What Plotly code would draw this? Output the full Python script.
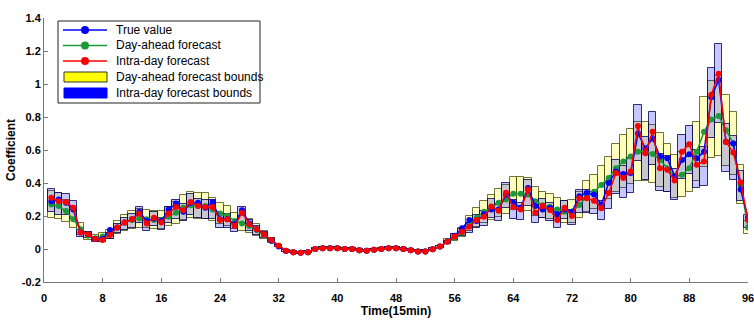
import numpy as np
import plotly.graph_objects as go

time_idx = list(range(1, 97))

true_value = [0.29, 0.30, 0.28, 0.24, 0.10, 0.09, 0.06, 0.06, 0.115, 0.13,
              0.16, 0.18, 0.225, 0.17, 0.185, 0.17, 0.24, 0.275, 0.225, 0.28,
              0.28, 0.25, 0.285, 0.18, 0.18, 0.15, 0.235, 0.155, 0.12, 0.09,
              0.05, 0.015, -0.012, -0.02, -0.022, -0.02, 0.0, 0.005, 0.005, 0.005,
              0.0, 0.0, -0.008, -0.01, -0.005, 0.0, 0.005, 0.005, 0.0, -0.008,
              -0.015, -0.015, -0.002, 0.015, 0.045, 0.08, 0.125, 0.175, 0.17, 0.21,
              0.24, 0.24, 0.33, 0.28, 0.25, 0.37, 0.26, 0.24, 0.25, 0.21,
              0.24, 0.226, 0.32, 0.34, 0.33, 0.27, 0.40, 0.47, 0.455, 0.46,
              0.70, 0.61, 0.67, 0.56, 0.55, 0.44, 0.54, 0.575, 0.55, 0.59,
              0.92, 1.024, 0.65, 0.64, 0.36, 0.19]

day_ahead = [0.27, 0.26, 0.23, 0.18, 0.12, 0.08, 0.065, 0.075, 0.09, 0.13,
             0.16, 0.175, 0.185, 0.18, 0.175, 0.175, 0.195, 0.22, 0.25, 0.265,
             0.26, 0.26, 0.24, 0.215, 0.20, 0.17, 0.155, 0.14, 0.115, 0.085,
             0.05, 0.02, -0.01, -0.02, -0.022, -0.02, 0.0, 0.005, 0.005, 0.005,
             0.0, 0.0, -0.008, -0.01, -0.005, 0.0, 0.005, 0.005, 0.0, -0.008,
             -0.015, -0.015, -0.002, 0.015, 0.045, 0.07, 0.10, 0.155, 0.19, 0.225,
             0.25, 0.28, 0.30, 0.335, 0.335, 0.33, 0.29, 0.265, 0.255, 0.24,
             0.225, 0.226, 0.267, 0.317, 0.347, 0.388, 0.43, 0.49, 0.53, 0.56,
             0.59, 0.59, 0.576, 0.54, 0.49, 0.44, 0.45, 0.49, 0.59, 0.71,
             0.785, 0.806, 0.72, 0.64, 0.39, 0.13]

intra_day = [0.31, 0.29, 0.285, 0.25, 0.10, 0.09, 0.06, 0.055, 0.085, 0.13,
             0.16, 0.18, 0.215, 0.155, 0.19, 0.16, 0.215, 0.255, 0.235, 0.285,
             0.26, 0.255, 0.255, 0.175, 0.18, 0.14, 0.22, 0.15, 0.12, 0.09,
             0.055, 0.02, -0.01, -0.02, -0.022, -0.02, 0.0, 0.005, 0.005, 0.005,
             0.0, 0.0, -0.008, -0.01, -0.005, 0.0, 0.005, 0.005, 0.0, -0.008,
             -0.015, -0.015, -0.002, 0.015, 0.044, 0.075, 0.105, 0.135, 0.176, 0.196,
             0.257, 0.232, 0.341, 0.253, 0.24, 0.36, 0.22, 0.26, 0.236, 0.176,
             0.25, 0.20, 0.307, 0.307, 0.293, 0.247, 0.34, 0.46, 0.43, 0.47,
             0.745, 0.58, 0.71, 0.49, 0.48, 0.415, 0.59, 0.635, 0.51, 0.53,
             0.935, 1.062, 0.648, 0.585, 0.405, 0.175]

da_lower = [0.189, 0.182, 0.161, 0.126, 0.084, 0.056, 0.046, 0.053, 0.063, 0.091,
            0.112, 0.123, 0.130, 0.126, 0.123, 0.123, 0.137, 0.154, 0.175, 0.186,
            0.182, 0.182, 0.168, 0.151, 0.140, 0.119, 0.109, 0.098, 0.081, 0.060,
            0.035, 0.014, -0.016, -0.026, -0.028, -0.026, -0.006, -0.001, -0.001, -0.001,
            -0.006, -0.006, -0.014, -0.016, -0.011, -0.006, -0.001, -0.001, -0.006, -0.014,
            -0.021, -0.021, -0.008, 0.009, 0.032, 0.049, 0.070, 0.109, 0.133, 0.158,
            0.175, 0.196, 0.210, 0.235, 0.235, 0.231, 0.203, 0.186, 0.179, 0.168,
            0.158, 0.158, 0.187, 0.222, 0.243, 0.272, 0.301, 0.343, 0.371, 0.392,
            0.413, 0.413, 0.403, 0.378, 0.343, 0.308, 0.315, 0.343, 0.413, 0.497,
            0.550, 0.564, 0.504, 0.448, 0.273, 0.091]

da_upper = [0.351, 0.338, 0.299, 0.234, 0.156, 0.104, 0.085, 0.098, 0.117, 0.169,
            0.208, 0.228, 0.241, 0.234, 0.228, 0.228, 0.254, 0.286, 0.325, 0.345,
            0.338, 0.338, 0.312, 0.280, 0.260, 0.221, 0.202, 0.182, 0.150, 0.111,
            0.065, 0.026, -0.004, -0.014, -0.016, -0.014, 0.006, 0.011, 0.011, 0.011,
            0.006, 0.006, -0.002, -0.004, 0.001, 0.006, 0.011, 0.011, 0.006, -0.002,
            -0.009, -0.009, 0.004, 0.021, 0.059, 0.091, 0.130, 0.202, 0.247, 0.293,
            0.325, 0.364, 0.390, 0.436, 0.436, 0.429, 0.377, 0.345, 0.332, 0.312,
            0.293, 0.294, 0.347, 0.412, 0.451, 0.504, 0.559, 0.637, 0.689, 0.728,
            0.767, 0.767, 0.749, 0.702, 0.637, 0.572, 0.585, 0.637, 0.767, 0.923,
            1.021, 1.048, 0.936, 0.832, 0.507, 0.169]

id_lower = [0.223, 0.209, 0.205, 0.180, 0.072, 0.065, 0.043, 0.040, 0.061, 0.094,
            0.115, 0.130, 0.155, 0.112, 0.137, 0.115, 0.155, 0.184, 0.169, 0.205,
            0.187, 0.184, 0.184, 0.126, 0.130, 0.101, 0.158, 0.108, 0.086, 0.065,
            0.040, 0.014, -0.016, -0.026, -0.028, -0.026, -0.006, -0.001, -0.001, -0.001,
            -0.006, -0.006, -0.014, -0.016, -0.011, -0.006, -0.001, -0.001, -0.006, -0.014,
            -0.021, -0.021, -0.008, 0.009, 0.032, 0.054, 0.076, 0.097, 0.127, 0.141,
            0.185, 0.167, 0.246, 0.182, 0.173, 0.259, 0.158, 0.187, 0.170, 0.127,
            0.180, 0.144, 0.221, 0.221, 0.211, 0.178, 0.245, 0.331, 0.310, 0.338,
            0.536, 0.418, 0.511, 0.353, 0.346, 0.299, 0.425, 0.457, 0.367, 0.382,
            0.673, 0.765, 0.467, 0.421, 0.292, 0.126]

id_upper = [0.363, 0.339, 0.333, 0.293, 0.117, 0.105, 0.070, 0.064, 0.099, 0.152,
            0.187, 0.211, 0.252, 0.181, 0.222, 0.187, 0.252, 0.298, 0.275, 0.333,
            0.304, 0.298, 0.298, 0.205, 0.211, 0.164, 0.257, 0.176, 0.140, 0.105,
            0.064, 0.023, -0.004, -0.014, -0.016, -0.014, 0.006, 0.011, 0.011, 0.011,
            0.006, 0.006, -0.002, -0.004, 0.001, 0.006, 0.011, 0.011, 0.006, -0.002,
            -0.009, -0.009, 0.004, 0.021, 0.051, 0.088, 0.123, 0.158, 0.206, 0.229,
            0.301, 0.271, 0.399, 0.296, 0.281, 0.421, 0.257, 0.304, 0.276, 0.206,
            0.293, 0.234, 0.359, 0.359, 0.343, 0.289, 0.398, 0.538, 0.503, 0.550,
            0.872, 0.679, 0.831, 0.573, 0.562, 0.486, 0.690, 0.743, 0.597, 0.620,
            1.094, 1.243, 0.758, 0.684, 0.474, 0.205]

x_ticks = [0, 8, 16, 24, 32, 40, 48, 56, 64, 72, 80, 88, 96]
y_ticks = [-0.2, 0, 0.2, 0.4, 0.6, 0.8, 1, 1.2, 1.4]
y_tick_text = ["-0.2", "0", "0.2", "0.4", "0.6", "0.8", "1", "1.2", "1.4"]

legend_labels = ["True value", "Day-ahead forecast", "Intra-day forecast",
                 "Day-ahead forecast bounds", "Intra-day forecast bounds"]

FONT = "Liberation Sans, Arial, sans-serif"
C_TRUE, C_DA, C_ID = "#0000ff", "#1a9a3a", "#ff0000"

W, H = 754, 324
PLOT_L, PLOT_R, PLOT_T, PLOT_B = 44, 748, 18, 282   # pixels
ML, MT, MR, MB = PLOT_L, PLOT_T, W - PLOT_R, H - PLOT_B
PW, PH = PLOT_R - PLOT_L, PLOT_B - PLOT_T

def px_x(px):
    return (px - PLOT_L) / PW

def px_y(py):
    return (PLOT_B - py) / PH

fig = go.Figure()

da_lo = np.array(da_lower)
da_hi = np.array(da_upper)
id_lo = np.array(id_lower)
id_hi = np.array(id_upper)

fig.add_trace(go.Bar(
    x=time_idx, y=da_hi - da_lo, base=da_lo, width=1,
    name=legend_labels[3],
    marker=dict(color="rgba(255,255,0,0.25)",
                line=dict(color="rgba(70,70,0,0.75)", width=1)),
))
fig.add_trace(go.Bar(
    x=time_idx, y=id_hi - id_lo, base=id_lo, width=1,
    name=legend_labels[4],
    marker=dict(color="rgba(0,0,255,0.22)",
                line=dict(color="rgba(0,0,90,0.8)", width=1)),
))
fig.add_trace(go.Scatter(
    x=time_idx, y=day_ahead, mode="lines+markers", name=legend_labels[1],
    line=dict(color=C_DA, width=1.5), marker=dict(color=C_DA, size=6),
))
fig.add_trace(go.Scatter(
    x=time_idx, y=true_value, mode="lines+markers", name=legend_labels[0],
    line=dict(color=C_TRUE, width=1.5), marker=dict(color=C_TRUE, size=6),
))
fig.add_trace(go.Scatter(
    x=time_idx, y=intra_day, mode="lines+markers", name=legend_labels[2],
    line=dict(color=C_ID, width=1.5), marker=dict(color=C_ID, size=6),
))

# hand-drawn legend box (matches the compact MATLAB-style legend)
shapes = [dict(type="rect", xref="paper", yref="paper",
               x0=px_x(58), x1=px_x(260), y0=px_y(103), y1=px_y(21),
               fillcolor="white", line=dict(color="#222", width=1), layer="above")]
annotations = []
rows_y = [30, 45.5, 61, 77, 93]
line_colors = [C_TRUE, C_DA, C_ID]
for i, cy in enumerate(rows_y):
    if i < 3:
        col = line_colors[i]
        shapes.append(dict(type="line", xref="paper", yref="paper",
                           x0=px_x(63), x1=px_x(107), y0=px_y(cy), y1=px_y(cy),
                           line=dict(color=col, width=1.5), layer="above"))
        shapes.append(dict(type="circle", xref="paper", yref="paper",
                           x0=px_x(81), x1=px_x(89), y0=px_y(cy + 4), y1=px_y(cy - 4),
                           fillcolor=col, line=dict(color=col, width=0), layer="above"))
    elif i == 3:
        shapes.append(dict(type="rect", xref="paper", yref="paper",
                           x0=px_x(64), x1=px_x(107), y0=px_y(cy + 5), y1=px_y(cy - 5),
                           fillcolor="#ffff00", line=dict(color="#333", width=1), layer="above"))
    else:
        shapes.append(dict(type="rect", xref="paper", yref="paper",
                           x0=px_x(64), x1=px_x(107), y0=px_y(cy + 5), y1=px_y(cy - 5),
                           fillcolor="#0000ff", line=dict(color="#0000ff", width=1), layer="above"))
    annotations.append(dict(text=legend_labels[i], xref="paper", yref="paper",
                            x=px_x(114), y=px_y(cy), xanchor="left", yanchor="middle",
                            showarrow=False,
                            font=dict(family=FONT, size=12, color="black")))

fig.update_layout(
    width=W, height=H,
    margin=dict(l=ML, r=MR, t=MT, b=MB, autoexpand=False),
    paper_bgcolor="white", plot_bgcolor="white",
    barmode="overlay", bargap=0,
    font=dict(family=FONT, color="black"),
    showlegend=False,
    shapes=shapes,
    annotations=annotations,
    xaxis=dict(
        range=[0, 96], tickvals=x_ticks, ticks="inside", ticklen=4,
        tickcolor="#777", showline=True, linecolor="#777", linewidth=1,
        showgrid=False, zeroline=False, mirror=False, automargin=False,
        ticklabelstandoff=6, ticklabeloverflow="allow",
        tickfont=dict(family=FONT, size=11, weight="bold", color="black"),
        title=dict(text="Time(15min)", standoff=3,
                   font=dict(family=FONT, size=12, weight="bold", color="black")),
    ),
    yaxis=dict(
        range=[-0.2, 1.4], tickvals=y_ticks, ticktext=y_tick_text,
        ticks="inside", ticklen=4, tickcolor="#777",
        showline=True, linecolor="#777", linewidth=1,
        showgrid=False, zeroline=False, mirror=False, automargin=False,
        ticklabeloverflow="allow",
        tickfont=dict(family=FONT, size=11, weight="bold", color="black"),
        title=dict(text="Coefficient", standoff=3,
                   font=dict(family=FONT, size=12, weight="bold", color="black")),
    ),
)

# remove the browser's default 8px page margin so the figure fills the window
fig.write_html("out.html",
               config={"displayModeBar": False},
               post_script="document.body.style.margin='0';"
                           "document.body.style.overflow='hidden';")
